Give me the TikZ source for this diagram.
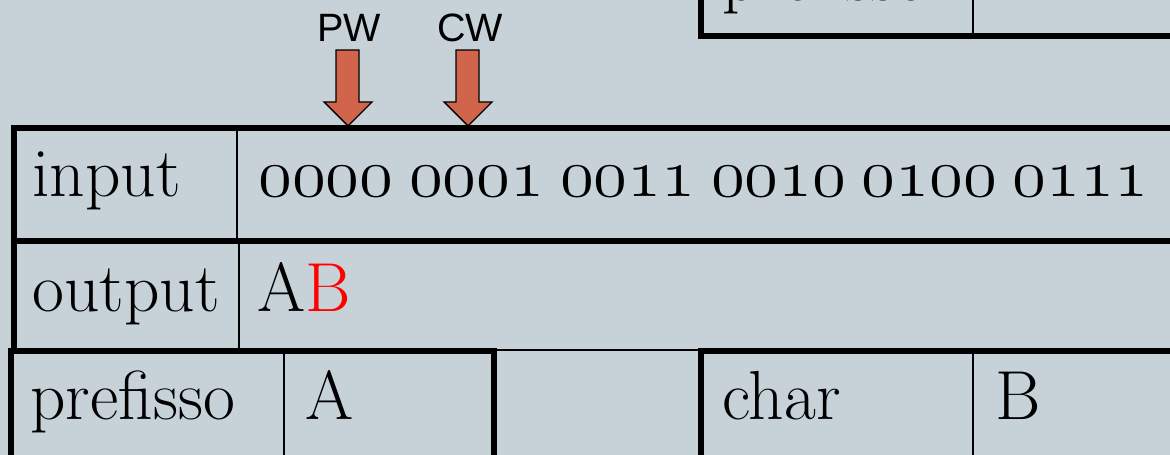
\documentclass[tikz,border=0pt]{standalone}
\usepackage{fontspec}
\usepackage{graphicx}
\usepackage{xcolor}
\newfontfamily\labelfont{Liberation Sans}

\definecolor{slidebg}{RGB}{198,210,216}
\definecolor{arrowred}{RGB}{209,101,75}

\newcommand{\bitfont}{\fontencoding{OML}\fontfamily{cmm}\fontseries{m}\fontshape{it}\fontsize{24.88}{30}\selectfont}
\newcommand{\gap}{\hspace{0.2cm}}

\tikzset{
  cell/.style={anchor=base west, inner sep=0pt, font=\fontsize{39.5}{47}\selectfont},
  pointer/.style={anchor=center, inner sep=0pt, font=\labelfont\fontsize{22.5}{27}\selectfont},
  heavy/.style={line width=2.9pt},
  light/.style={line width=1.1pt},
  blockarrow/.style={draw=black, line width=0.8pt, fill=arrowred, line join=miter}
}

\begin{document}
\begin{tikzpicture}[x=0.02cm, y=-0.02cm]

\clip (0,0) rectangle (1170,455);
\fill[slidebg] (0,0) rectangle (1170,455);

% tabella in alto (tagliata)
\draw[light] (973,-60) -- (973,36);
\draw[heavy] (701,-60) -- (701,36) -- (1200,36);
\node[cell] (ptop) at (722,1) {prefisso};

% tabella input / output
\draw[light] (237,128) -- (237,241);
\draw[light] (239,241) -- (239,351);
\draw[light] (14,350) -- (1200,350);
\draw[heavy] (1200,128) -- (14,128) -- (14,351);
\draw[heavy] (14,241) -- (1200,241);

\node[cell] (in)   at (32,197)  {input};
\node[cell] (bits) at (258,197) {\scalebox{1.58}{\bitfont 0000\gap 0001\gap 0011\gap 0010\gap 0100\gap 0111}};
\node[cell] (out)  at (32,312)  {output};
\node[cell] (ab)   at (257,312) {A\textcolor{red}{B}};

% prefisso / char
\draw[light] (284,351) -- (284,480);
\draw[light] (973,351) -- (973,480);
\draw[heavy] (11,480) -- (11,351) -- (494,351) -- (494,480);
\draw[heavy] (701,480) -- (701,351) -- (1200,351);

\node[cell] (pref)  at (30,420)  {prefisso};
\node[cell] (prefv) at (305,420) {A};
\node[cell] (chr)   at (722,420) {char};
\node[cell] (chrv)  at (995,420) {B};

% puntatori
\node[pointer] (pw) at (349,28) {PW};
\node[pointer] (cw) at (470,28) {CW};
\coordinate (pwtip) at (348,126);
\coordinate (cwtip) at (468,126);

\draw[blockarrow] (pwtip) -- ++(-24,-24) -- ++(12,0) -- ++(0,-52) -- ++(23,0)
  -- ++(0,52) -- ++(13,0) -- cycle;
\draw[blockarrow] (cwtip) -- ++(-24,-24) -- ++(12,0) -- ++(0,-52) -- ++(23,0)
  -- ++(0,52) -- ++(13,0) -- cycle;

\end{tikzpicture}
\end{document}
